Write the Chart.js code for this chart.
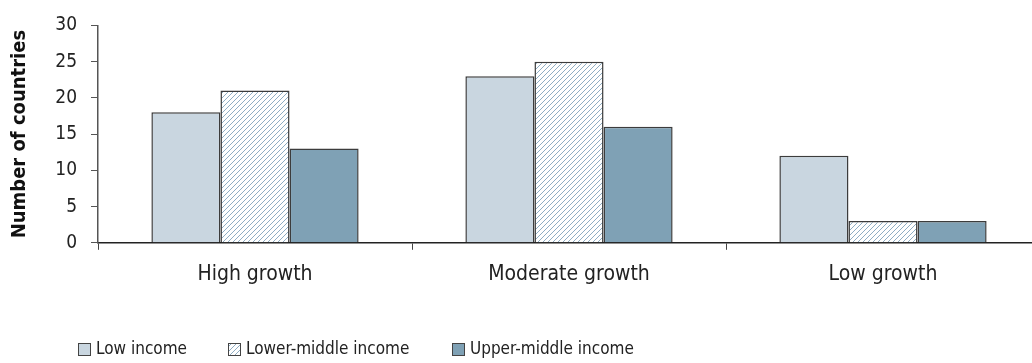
<!DOCTYPE html>
<html>
<head>
<meta charset="utf-8">
<script src="https://cdn.jsdelivr.net/npm/chart.js@4.4.0/dist/chart.umd.min.js"></script>
<style>
  html, body { margin: 0; padding: 0; background: #fff; overflow: hidden; }
  #wrap { width: 1042px; height: 363px; }
</style>
</head>
<body>
<div id="wrap"><canvas id="growthChart" width="1042" height="363"></canvas></div>
<script>
const categories = ['High growth', 'Moderate growth', 'Low growth'];
const seriesNames = ['Low income', 'Lower-middle income', 'Upper-middle income'];
const lowIncome = [18, 23, 12];
const lowerMiddle = [21, 25, 3];
const upperMiddle = [13, 16, 3];
const yTicks = [0, 5, 10, 15, 20, 25, 30];

const FONT = '"Liberation Sans Narrow", "DejaVu Sans Condensed", sans-serif';

function makeHatch() {
    const c = document.createElement('canvas');
    c.width = 5;
    c.height = 5;
    const g = c.getContext('2d');
    g.fillStyle = '#ffffff';
    g.fillRect(0, 0, 5, 5);
    g.strokeStyle = '#8eadc4';
    g.lineWidth = 1;
    g.beginPath();
    g.moveTo(0, 5); g.lineTo(5, 0);
    g.moveTo(-2.5, 2.5); g.lineTo(2.5, -2.5);
    g.moveTo(2.5, 7.5); g.lineTo(7.5, 2.5);
    g.stroke();
    return g.createPattern(c, 'repeat');
}

const hatch = makeHatch();

// legend drawn by hand so it can sit where the original one does
const bottomLegend = {
    id: 'bottomLegend',
    afterDraw(chart) {
        const ctx = chart.ctx;
        const starts = [78, 228, 452];
        const y = 343;
        ctx.save();
        ctx.font = '17px ' + FONT;
        ctx.textBaseline = 'middle';
        chart.data.datasets.forEach(function(ds, i) {
            const x = starts[i];
            ctx.fillStyle = ds.backgroundColor;
            ctx.fillRect(x, y, 13, 13);
            ctx.strokeStyle = '#444';
            ctx.lineWidth = 1;
            ctx.strokeRect(x + 0.5, y + 0.5, 12, 12);
            ctx.fillStyle = '#222';
            ctx.fillText(ds.label, x + 18, y + 7);
        });
        ctx.restore();
    }
};

const ctx = document.getElementById('growthChart').getContext('2d');

new Chart(ctx, {
    type: 'bar',
    data: {
        labels: categories,
        datasets: [{
            label: seriesNames[0],
            data: lowIncome,
            backgroundColor: '#c9d6e0',
            borderColor: '#3c3c3c',
            borderWidth: 1.5
        }, {
            label: seriesNames[1],
            data: lowerMiddle,
            backgroundColor: hatch,
            borderColor: '#3c3c3c',
            borderWidth: 1.5
        }, {
            label: seriesNames[2],
            data: upperMiddle,
            backgroundColor: '#7fa1b5',
            borderColor: '#3c3c3c',
            borderWidth: 1.5
        }]
    },
    options: {
        responsive: false,
        animation: false,
        layout: {
            padding: { top: 11, bottom: 64, left: 0, right: 2 }
        },
        datasets: {
            bar: {
                barPercentage: 1,
                categoryPercentage: 0.66
            }
        },
        plugins: {
            legend: { display: false },
            tooltip: { enabled: false }
        },
        scales: {
            x: {
                grid: {
                    drawOnChartArea: false,
                    drawTicks: true,
                    tickLength: 7,
                    tickColor: '#444',
                    offset: true
                },
                border: { color: '#222', width: 1.5 },
                ticks: {
                    color: '#222',
                    font: { family: FONT, size: 21 },
                    padding: 12
                }
            },
            y: {
                min: 0,
                max: 30,
                afterBuildTicks: function(scale) {
                    scale.ticks = yTicks.map(v => ({ value: v }));
                },
                afterFit: function(scale) {
                    scale.width = 98;
                },
                grid: {
                    drawOnChartArea: false,
                    drawTicks: true,
                    tickLength: 7,
                    tickColor: '#555'
                },
                border: { color: '#555', width: 1.5 },
                ticks: {
                    color: '#222',
                    font: { family: FONT, size: 19 },
                    padding: 14
                },
                title: {
                    display: true,
                    text: 'Number of countries',
                    color: '#111',
                    font: { family: FONT, size: 20, weight: 'bold' },
                    padding: { top: 8, bottom: 0 }
                }
            }
        }
    },
    plugins: [bottomLegend]
});
</script>
</body>
</html>
